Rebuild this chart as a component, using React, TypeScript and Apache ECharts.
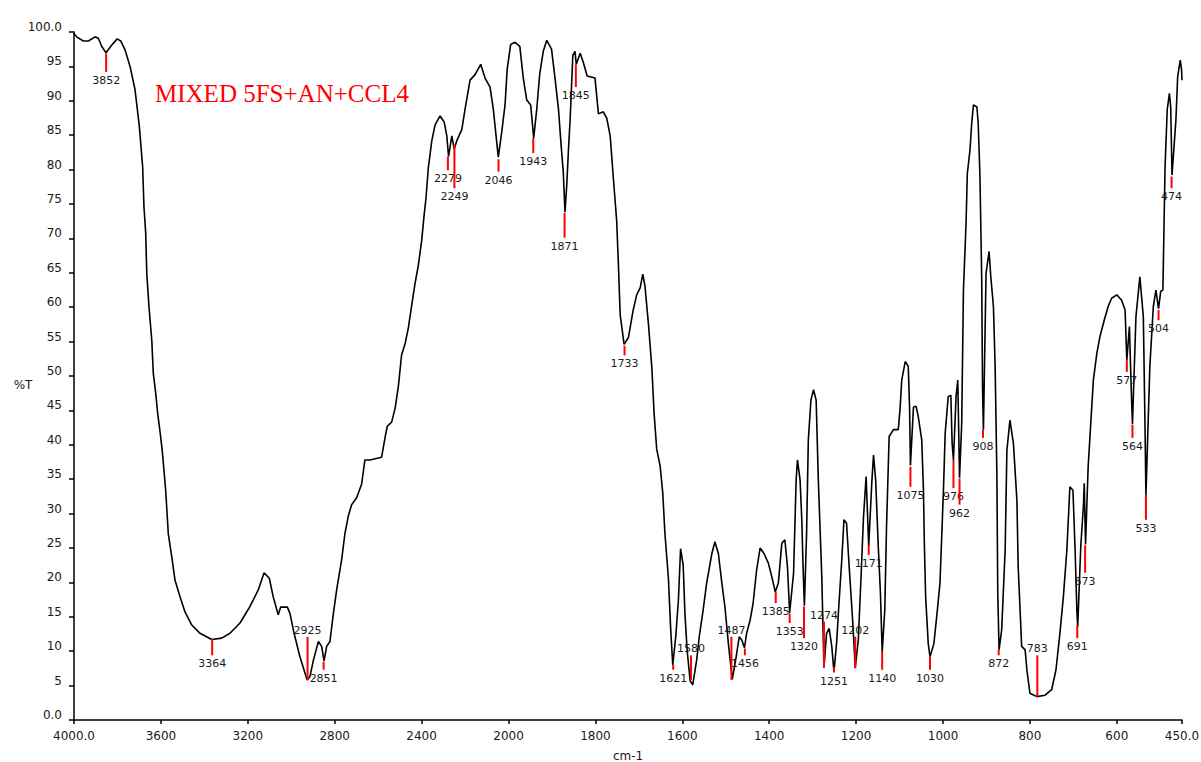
import React, { useEffect, useRef } from "react";
import * as echarts from "echarts";

// Spectrum: [wavenumber (cm-1), %T]
const spectrum: [number, number][] = [
  [4000,99.8],[3988,99.3],[3957,98.7],[3934,98.7],[3903,99.3],[3888,99.1],[3872,97.9],[3853,97.0],[3826,98.1],[3801,99.0],
  [3785,98.7],[3765,97.4],[3742,95.0],[3719,91.6],[3699,86.2],[3684,80.4],[3678,74.6],[3670,70.8],[3665,64.9],[3655,60.1],
  [3642,55.2],[3635,50.4],[3624,47.5],[3615,44.6],[3604,41.9],[3594,39.2],[3586,36.3],[3578,33.4],[3566,27.1],[3550,23.7],
  [3535,20.3],[3512,17.9],[3489,15.7],[3458,13.8],[3420,12.6],[3366,11.7],[3320,11.9],[3282,12.6],[3236,14.1],[3190,16.5],
  [3152,18.9],[3125,21.4],[3101,20.6],[3083,17.9],[3060,15.3],[3049,16.4],[3018,16.4],[3006,15.5],[2987,12.6],[2960,9.2],
  [2927,5.8],[2914,6.3],[2898,8.7],[2875,11.4],[2860,10.7],[2849,8.6],[2837,10.7],[2822,11.4],[2806,15.5],[2791,18.9],
  [2768,23.3],[2753,27.1],[2737,29.7],[2722,31.3],[2699,32.3],[2676,34.3],[2661,37.8],[2638,37.8],[2584,38.2],[2568,41.1],
  [2558,42.7],[2538,43.3],[2522,45.3],[2507,48.5],[2492,53.1],[2476,54.7],[2461,57.0],[2446,60.2],[2430,63.5],[2415,66.1],
  [2400,69.6],[2389,73.2],[2380,75.8],[2369,80.3],[2353,84.2],[2338,86.5],[2315,87.8],[2296,86.9],[2284,84.9],[2276,81.9],
  [2261,84.9],[2250,83.0],[2238,84.2],[2215,85.8],[2200,88.8],[2177,93.0],[2154,93.8],[2128,95.3],[2108,93.3],[2085,92.0],
  [2070,88.8],[2047,81.8],[2031,85.5],[2016,89.4],[2006,94.6],[1995,98.2],[1985,98.5],[1974,97.9],[1966,93.3],[1958,90.1],
  [1949,89.4],[1942,84.6],[1935,88.8],[1928,94.0],[1920,97.2],[1912,98.8],[1901,97.5],[1893,93.3],[1885,88.8],[1879,83.6],
  [1874,79.7],[1870,73.8],[1866,77.7],[1862,82.9],[1858,87.5],[1852,96.6],[1847,97.2],[1844,95.3],[1835,96.9],[1828,95.6],
  [1819,93.6],[1801,93.3],[1793,88.1],[1782,88.4],[1774,87.5],[1766,84.9],[1759,79.0],[1751,72.5],[1747,66.1],[1743,58.9],
  [1734,54.6],[1724,55.6],[1713,59.6],[1705,61.8],[1697,62.8],[1691,64.8],[1686,63.1],[1678,57.6],[1670,51.1],[1665,44.6],
  [1659,39.4],[1651,36.9],[1645,33.0],[1640,27.1],[1632,20.6],[1627,13.5],[1622,8.0],[1615,12.2],[1609,17.4],[1604,24.9],
  [1598,22.5],[1594,15.5],[1589,10.2],[1582,5.7],[1576,5.1],[1567,8.7],[1561,12.1],[1552,16.0],[1544,19.9],[1532,24.2],
  [1525,25.9],[1517,24.2],[1509,19.9],[1502,16.5],[1494,11.1],[1485,5.9],[1476,9.2],[1469,12.1],[1463,11.6],[1457,10.5],
  [1452,12.6],[1444,14.5],[1437,17.0],[1429,21.8],[1421,25.0],[1412,24.2],[1402,22.8],[1394,20.8],[1386,18.6],[1379,19.9],
  [1371,25.7],[1364,26.2],[1358,22.3],[1353,15.6],[1344,21.3],[1338,34.9],[1335,37.8],[1329,34.9],[1325,29.1],[1322,22.0],
  [1319,16.6],[1314,27.1],[1310,40.7],[1304,46.5],[1298,48.0],[1292,46.5],[1287,34.9],[1279,20.8],[1274,7.6],[1268,12.6],
  [1262,13.3],[1256,10.7],[1251,7.0],[1245,11.1],[1239,17.4],[1233,23.3],[1228,29.1],[1222,28.6],[1216,22.3],[1208,14.5],
  [1202,7.6],[1195,11.6],[1189,20.3],[1183,29.5],[1177,35.4],[1171,25.3],[1164,34.4],[1160,38.5],[1155,34.9],[1149,25.2],
  [1144,18.4],[1140,9.9],[1134,16.0],[1130,28.1],[1124,41.2],[1114,42.2],[1103,42.2],[1099,45.1],[1095,49.4],[1087,52.1],
  [1080,51.4],[1077,45.5],[1075,37.0],[1068,45.5],[1062,45.6],[1057,44.1],[1049,40.7],[1045,33.4],[1043,25.7],[1040,17.9],
  [1034,11.1],[1030,9.2],[1021,11.1],[1013,16.0],[1007,19.9],[999,33.4],[995,41.7],[988,47.0],[982,47.2],[979,40.2],
  [976,37.8],[970,47.0],[966,49.4],[962,35.2],[957,43.1],[953,62.5],[947,72.2],[944,79.5],[938,82.8],[934,86.7],
  [930,89.4],[922,89.1],[919,86.7],[915,79.0],[911,64.4],[909,48.0],[907,42.2],[901,64.9],[894,68.1],[890,64.4],
  [884,60.1],[880,51.3],[876,35.4],[874,18.4],[871,10.2],[865,13.1],[857,24.7],[853,39.2],[846,43.6],[838,40.2],
  [830,32.0],[827,22.3],[819,10.7],[811,10.2],[807,7.3],[800,3.9],[784,3.4],[765,3.6],[750,4.4],[740,7.3],
  [731,12.6],[723,17.9],[715,24.7],[708,33.9],[701,33.4],[696,24.7],[692,16.0],[690,13.6],[683,25.2],[677,31.0],
  [675,34.4],[672,25.5],[666,36.8],[660,43.1],[654,49.4],[646,53.3],[639,55.7],[629,58.1],[620,60.1],[612,61.3],
  [600,61.8],[589,61.0],[581,59.6],[577,52.3],[571,57.2],[567,48.4],[564,43.0],[556,58.6],[547,64.4],[539,58.6],
  [535,42.2],[533,32.7],[524,51.4],[516,60.1],[510,62.5],[504,59.8],[499,62.3],[494,62.5],[489,80.4],[484,88.7],
  [479,91.1],[476,89.1],[473,79.2],[464,87.2],[460,93.5],[454,95.9],[451,94.5],[450,93.0],
];

// Peak annotations
const peakWn = [3852, 3364, 2925, 2851, 2279, 2249, 2046, 1943, 1871, 1845, 1733, 1621, 1580, 1487, 1456, 1385, 1353, 1320, 1274, 1251, 1202, 1171, 1140, 1075, 1030, 976, 962, 908, 872, 783, 691, 673, 577, 564, 533, 504, 474];
const peakTop = [96.9, 11.8, 12.1, 8.5, 81.9, 83.6, 81.5, 84.6, 73.7, 95.3, 54.4, 8.0, 9.4, 12.1, 10.4, 18.6, 15.5, 16.5, 14.3, 7.7, 12.1, 25.4, 9.9, 36.8, 9.2, 37.8, 35.1, 42.2, 10.2, 9.4, 13.8, 25.4, 52.3, 42.9, 32.7, 59.6, 79.0];
const peakBottom = [94.2, 9.4, 5.8, 7.3, 79.9, 77.3, 79.7, 82.4, 70.1, 92.0, 53.0, 7.3, 5.8, 5.8, 9.4, 17.0, 14.1, 11.9, 7.7, 6.9, 7.5, 24.0, 7.3, 33.9, 7.3, 33.7, 31.3, 41.0, 9.4, 3.4, 11.9, 21.4, 50.6, 41.0, 29.1, 58.1, 77.3];
const peakLabelAbove = [2925, 1580, 1487, 1274, 1202, 783];

// Axis ticks (wavenumber scale changes at 2000 cm-1)
const xTicksWn = [4000, 3600, 3200, 2800, 2400, 2000, 1800, 1600, 1400, 1200, 1000, 800, 600, 450];
const chartTitle = "MIXED 5FS+AN+CCL4";
const yName = "%T";
const xName = "cm-1";

function toAxis(wn: number): number {
  return wn >= 2000 ? (4000 - wn) / 400 : 5 + (2000 - wn) / 200;
}
function fromAxis(u: number): number {
  return u <= 5 ? 4000 - 400 * u : 2000 - 200 * (u - 5);
}

const FONT = "DejaVu Sans";

export default function App() {
  const ref = useRef<HTMLDivElement>(null);
  useEffect(() => {
    if (!ref.current) return;
    const chart = echarts.init(ref.current, undefined, { renderer: "svg" });
    const xMax = toAxis(xTicksWn[xTicksWn.length - 1]);
    const option: any = {
      animation: false,
      backgroundColor: "#ffffff",
      grid: { left: 74, right: 19, top: 32, bottom: 42, containLabel: false, outerBoundsMode: "none" },
      xAxis: {
        type: "value",
        min: 0,
        max: xMax,
        interval: 1,
        axisLine: { show: true, lineStyle: { color: "#000", width: 1.5 } },
        axisTick: { show: true, length: 4, lineStyle: { color: "#000", width: 1.5 } },
        splitLine: { show: false },
        axisLabel: {
          show: true,
          showMinLabel: true,
          showMaxLabel: true,
          margin: 10,
          color: "#1a1a1a",
          fontSize: 12,
          fontFamily: FONT,
          formatter: (v: number) => {
            const wn = Math.round(fromAxis(v));
            return wn === 4000 || wn === 450 ? wn.toFixed(1) : String(wn);
          },
        },
      },
      yAxis: {
        type: "value",
        min: 0,
        max: 100,
        interval: 5,
        axisLine: { show: true, lineStyle: { color: "#000", width: 1.5 } },
        axisTick: { show: true, length: 5, lineStyle: { color: "#000", width: 1.5 } },
        splitLine: { show: false },
        axisLabel: {
          margin: 12,
          color: "#1a1a1a",
          fontSize: 12,
          fontFamily: FONT,
          verticalAlign: "bottom",
          lineHeight: 10,
          formatter: (v: number) => (v === 0 || v === 100 ? v.toFixed(1) : String(v)),
        },
      },
      graphic: [
        {
          type: "text",
          left: 155,
          top: 81,
          style: { text: chartTitle, fill: "#ff0000", fontSize: 25, fontFamily: "Liberation Serif" },
        },
        {
          type: "text",
          x: 23,
          y: 385,
          style: { text: yName, fill: "#1a1a1a", fontSize: 12, fontFamily: FONT, align: "center", verticalAlign: "middle" },
        },
        {
          type: "text",
          x: 628,
          y: 756,
          style: { text: xName, fill: "#1a1a1a", fontSize: 12, fontFamily: FONT, align: "center", verticalAlign: "middle" },
        },
      ],
      series: [
        {
          type: "line",
          data: spectrum.map(([w, t]) => [toAxis(w), t]),
          showSymbol: false,
          symbol: "none",
          lineStyle: { color: "#000", width: 1.6 },
          z: 2,
          silent: true,
        },
        {
          type: "custom",
          silent: true,
          z: 3,
          data: peakWn.map((w, i) => [toAxis(w), peakTop[i], peakBottom[i], w]),
          renderItem: (_params: any, api: any) => {
            const u = api.value(0);
            const top = api.value(1);
            const bot = api.value(2);
            const wn = api.value(3);
            const p1 = api.coord([u, top]);
            const p2 = api.coord([u, bot]);
            const above = peakLabelAbove.indexOf(wn) >= 0;
            return {
              type: "group",
              children: [
                {
                  type: "line",
                  shape: { x1: p1[0], y1: p1[1], x2: p2[0], y2: p2[1] },
                  style: { stroke: "#ff0000", lineWidth: 2 },
                },
                {
                  type: "text",
                  x: p1[0],
                  y: above ? p1[1] - 1 : p2[1] + 3,
                  style: {
                    text: String(wn),
                    fill: "#1a1a1a",
                    fontSize: 11,
                    fontFamily: FONT,
                    align: "center",
                    verticalAlign: above ? "bottom" : "top",
                  },
                },
              ],
            };
          },
        },
      ],
    };
    chart.setOption(option);
    return () => chart.dispose();
  }, []);
  return (
    <div
      ref={ref}
      style={{ position: "fixed", left: 0, top: 0, width: 1201, height: 762, background: "#fff" }}
    />
  );
}
